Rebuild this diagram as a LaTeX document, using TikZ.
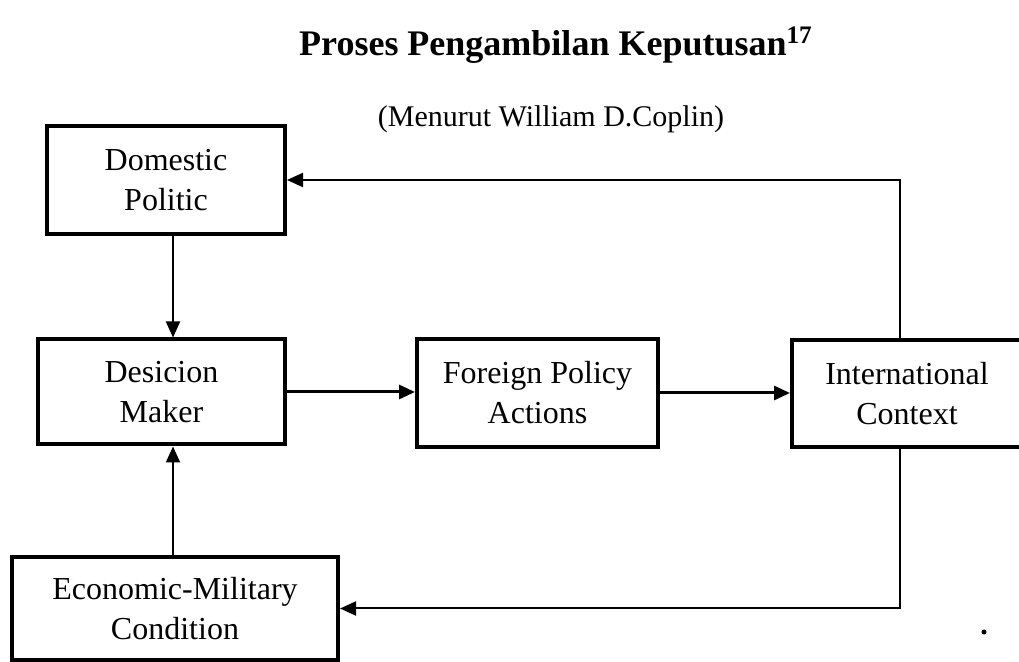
\documentclass[tikz,border=0pt]{standalone}
\usepackage{fontspec}
\setmainfont{Liberation Serif}
\usetikzlibrary{arrows.meta}

\begin{document}
\begin{tikzpicture}[x=0.5pt, y=-0.5pt, >={Triangle[length=8pt, width=7pt]},
    box/.style={draw, line width=2pt, align=center, inner sep=0pt, font=\fontsize{16}{20}\selectfont},
    link/.style={->, line width=1pt}]
    \useasboundingbox (0,0) rectangle (1019,662);
        \node[font=\fontsize{18}{22}\selectfont\bfseries] (title) at (556,45) {Proses Pengambilan Keputusan\textsuperscript{17}};
        \node[font=\fontsize{15}{18}\selectfont] (subtitle) at (551,119) {(Menurut William D.Coplin)};
        \node[box, minimum width=119pt, minimum height=54pt] (dom) at (166,180) {Domestic\\Politic};
        \node[box, minimum width=123.5pt, minimum height=52.5pt] (dec) at (161.5,392) {Desicion\\Maker};
        \node[box, minimum width=120.5pt, minimum height=54pt] (fpa) at (537.5,393) {Foreign Policy\\Actions};
        \node[box, minimum width=115pt, minimum height=53.5pt] (ic) at (907,393.5) {International\\Context};
        \node[box, minimum width=163pt, minimum height=51.5pt] (emc) at (175,608.5) {Economic-Military\\Condition};
        \coordinate (vl) at (173,0);
        \coordinate (vr) at (900,0);
        \draw[link] (vl |- dom.south) -- (vl |- dec.north);
        \draw[link, line width=1.5pt] (dec.east) -- (dec.east -| fpa.west);
        \draw[link, line width=1.5pt] (fpa.east) -- (fpa.east -| ic.west);
        \draw[link] (vr |- ic.north) |- (dom.east);
        \draw[link] (vr |- ic.south) |- (emc.east);
        \draw[link] (vl |- emc.north) -- (vl |- dec.south);
        \fill (984,632) circle (2.5);
    \end{tikzpicture}
\end{document}
